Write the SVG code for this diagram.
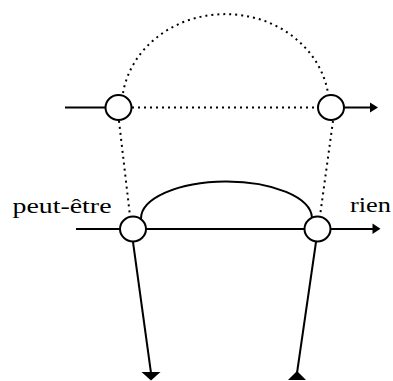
<svg xmlns="http://www.w3.org/2000/svg" width="393" height="381" viewBox="0 0 393 381">
<style>
.s{fill:none;stroke:#000;stroke-width:2}
.d{fill:none;stroke:#000;stroke-width:2;stroke-dasharray:2 4}
.n{fill:#fff;stroke:#000;stroke-width:2}
.a{fill:#000;stroke:none}
text{font-family:"Liberation Serif","Times New Roman",serif;font-size:22px;fill:#000}
</style>
<rect width="393" height="381" fill="#fff"/>
<g id="connectors">
<line class="s" x1="65" y1="107.5" x2="105" y2="107.5"/>
<line class="s" x1="344" y1="107.5" x2="372" y2="107.5"/>
<polygon class="a" points="370,102.5 378,107.5 370,112.5"/>
<line class="d" x1="132" y1="107.5" x2="318" y2="107.5"/>
<path class="d" d="M123,93 A103.7 93 0 0 1 328,93"/>
<line class="d" x1="119" y1="121" x2="130" y2="216"/>
<line class="d" x1="333" y1="121" x2="320" y2="216"/>
<line class="s" x1="76" y1="229" x2="120" y2="229"/>
<line class="s" x1="146" y1="229" x2="304" y2="229"/>
<line class="s" x1="330" y1="229" x2="374" y2="229"/>
<polygon class="a" points="372.5,223.5 380.5,228.8 372.5,234"/>
<path class="s" d="M141,219 A85.3 37 0 0 1 312,218"/>
<line class="s" x1="133" y1="242" x2="151" y2="373"/>
<polygon class="a" points="141.5,372 160.5,372 151,380.5"/>
<line class="s" x1="316" y1="242" x2="297" y2="373"/>
<polygon class="a" points="288,380 306,380 297,371"/>
</g>
<g id="n1"><ellipse class="n" cx="118.5" cy="107.5" rx="13" ry="12.5"/></g>
<g id="n2"><ellipse class="n" cx="331" cy="107.5" rx="13" ry="12.5"/></g>
<g id="n3"><ellipse class="n" cx="133" cy="229" rx="13" ry="12.5"/></g>
<g id="n4"><ellipse class="n" cx="317.5" cy="229" rx="13" ry="12.5"/></g>
<g id="labels">
<text x="12.5" y="213" textLength="99" lengthAdjust="spacingAndGlyphs">peut-être</text>
<text x="350" y="212" textLength="41" lengthAdjust="spacingAndGlyphs">rien</text>
</g>
</svg>
